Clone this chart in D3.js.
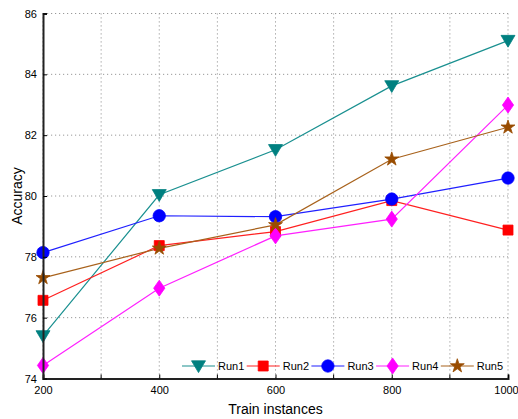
<!DOCTYPE html>
<html lang="en">
<head>
<meta charset="UTF-8">
<title>Accuracy vs train instances</title>
<script src="https://d3js.org/d3.v7.min.js"></script>
<style>
  body { margin: 0; background: #fff; }
  svg text { font-family: "Liberation Sans", Arial, sans-serif; fill: #000; }
  .grid line { stroke: #999; stroke-dasharray: 1.2 2.8; }
</style>
</head>
<body>
<div id="chart"></div>
<script>
// data
const trainSizes = [200, 400, 600, 800, 1000];
const run1 = [75.40, 80.04, 81.52, 83.62, 85.11];
const run2 = [76.57, 78.37, 78.83, 79.85, 78.88];
const run3 = [78.14, 79.35, 79.32, 79.90, 80.59];
const run4 = [74.43, 76.97, 78.69, 79.24, 82.99];
const run5 = [77.31, 78.28, 79.05, 81.21, 82.26];
const runNames = ["Run1", "Run2", "Run3", "Run4", "Run5"];
const xTicks = [200, 400, 600, 800, 1000];
const xMinor = [300, 500, 700, 900];
const yTicks = [74, 76, 78, 80, 82, 84, 86];

const width = 518, height = 419;
const margin = {left: 43, right: 10, top: 13.5, bottom: 40.5};

const series = [
  {name: runNames[0], values: run1, color: "#008080", line: "#1a9090", symbol: "tri"},
  {name: runNames[1], values: run2, color: "#ff0000", line: "#ff2020", symbol: "square"},
  {name: runNames[2], values: run3, color: "#0000ff", line: "#2020ff", symbol: "circle"},
  {name: runNames[3], values: run4, color: "#ff00ff", line: "#ff20ff", symbol: "diamond"},
  {name: runNames[4], values: run5, color: "#994c00", line: "#a8621c", symbol: "star"}
];

const svg = d3.select("#chart").append("svg")
  .attr("width", width).attr("height", height);

const x = d3.scaleLinear().domain([200, 1000]).range([margin.left, width - margin.right]);
const y = d3.scaleLinear().domain([74, 86]).range([height - margin.bottom, margin.top]);

// grid
const grid = svg.append("g").attr("class", "grid");
grid.selectAll(".v").data(d3.range(200, 1001, 100)).join("line")
  .attr("x1", d => x(d)).attr("x2", d => x(d))
  .attr("y1", y(74)).attr("y2", y(86));
grid.selectAll(".h").data(yTicks).join("line")
  .attr("x1", x(200)).attr("x2", x(1000))
  .attr("y1", d => y(d)).attr("y2", d => y(d));

// marker path builder
function markerPath(sym) {
  if (sym === "tri") {
    return "M-7,-5.2L7,-5.2L0,6.6Z";
  }
  if (sym === "diamond") {
    return "M0,-8L5.6,0L0,8L-5.6,0Z";
  }
  if (sym === "square") return d3.symbol(d3.symbolSquare, 100)();
  if (sym === "circle") return d3.symbol(d3.symbolCircle, 120)();
  return d3.symbol(d3.symbolStar, 60)();
}

const line = d3.line().x((d, i) => x(trainSizes[i])).y(d => y(d));

series.forEach(s => {
  svg.append("path")
    .datum(s.values)
    .attr("fill", "none")
    .attr("stroke", s.line)
    .attr("stroke-width", 1.2)
    .attr("d", line);
});
series.forEach(s => {
  svg.append("g").selectAll("path").data(s.values).join("path")
    .attr("transform", (d, i) => `translate(${x(trainSizes[i])},${y(d)})`)
    .attr("d", markerPath(s.symbol))
    .attr("fill", s.color)
    .attr("stroke", s.color)
    .attr("stroke-width", 0.8);
});

// axes
const xAxis = svg.append("g").attr("transform", `translate(0,${y(74)})`)
  .call(d3.axisBottom(x).tickValues(xTicks).tickSize(-4).tickPadding(8).tickFormat(d3.format("d")));
xAxis.append("g").selectAll("line").data(xMinor).join("line")
  .attr("x1", d => x(d)).attr("x2", d => x(d)).attr("y1", 0).attr("y2", -4)
  .attr("stroke", "#000");
const yAxis = svg.append("g").attr("transform", `translate(${x(200)},0)`)
  .call(d3.axisLeft(y).tickValues(yTicks).tickSize(-4).tickPadding(6));
[xAxis, yAxis].forEach(a => {
  a.select(".domain").attr("stroke", "#222").attr("stroke-width", 2);
  a.selectAll(".tick text").attr("font-size", 11)
    .style("font-family", "'Liberation Sans', Arial, sans-serif");
});
// keep the last x label inside the window
xAxis.selectAll(".tick text").filter(d => d === 1000).attr("dx", -2);

// axis titles
svg.append("text")
  .attr("x", (x(200) + x(1000)) / 2).attr("y", 414)
  .attr("text-anchor", "middle").attr("font-size", 14)
  .text("Train instances");
svg.append("text")
  .attr("transform", `translate(22,${(y(74) + y(86)) / 2}) rotate(-90)`)
  .attr("text-anchor", "middle").attr("font-size", 14)
  .text("Accuracy");

// legend
const legend = svg.append("g").attr("transform", "translate(182,366)");
series.forEach((s, i) => {
  const g = legend.append("g").attr("transform", `translate(${i * 64.7},0)`);
  g.append("line").attr("x1", 0).attr("x2", 33).attr("y1", 0).attr("y2", 0)
    .attr("stroke", s.line).attr("stroke-width", 1.2);
  g.append("path").attr("transform", "translate(16.5,0)")
    .attr("d", markerPath(s.symbol))
    .attr("fill", s.color).attr("stroke", s.color).attr("stroke-width", 0.8);
  g.append("text").attr("x", 36).attr("y", 4).attr("font-size", 11).text(s.name);
});
</script>
</body>
</html>
